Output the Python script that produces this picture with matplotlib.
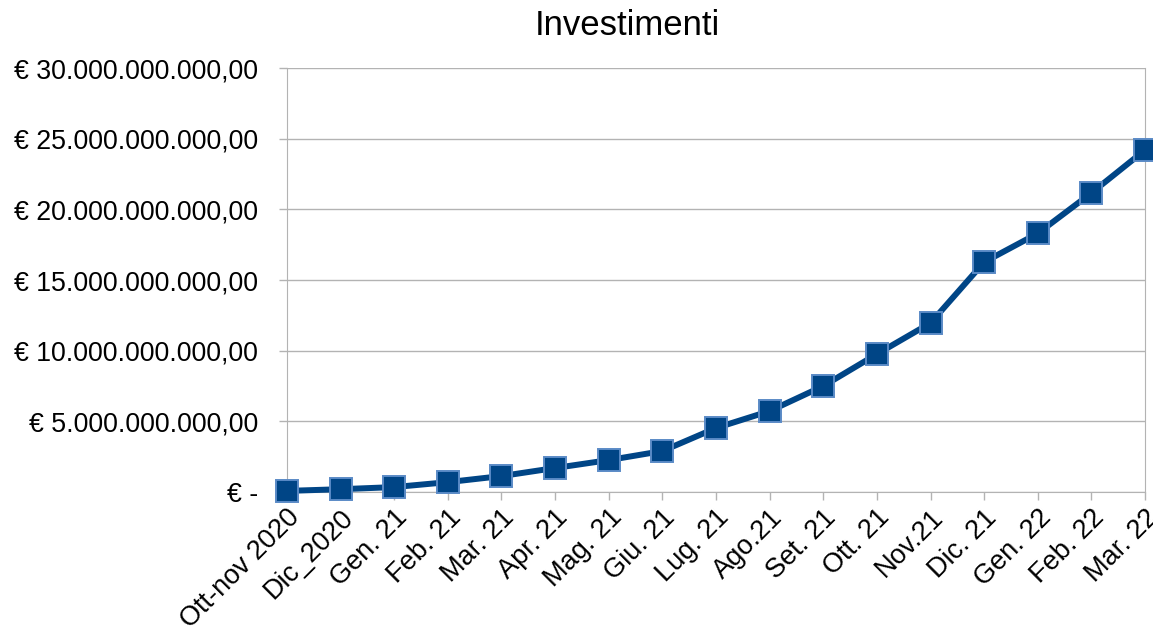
import matplotlib.pyplot as plt
import numpy as np

mesi = ['Ott-nov 2020', 'Dic_2020', 'Gen. 21', 'Feb. 21', 'Mar. 21', 'Apr. 21',
        'Mag. 21', 'Giu. 21', 'Lug. 21', 'Ago.21', 'Set. 21', 'Ott. 21',
        'Nov.21', 'Dic. 21', 'Gen. 22', 'Feb. 22', 'Mar. 22']
investimenti = [0.08e9, 0.2e9, 0.35e9, 0.7e9, 1.13e9, 1.7e9, 2.26e9, 2.9e9,
                4.53e9, 5.73e9, 7.5e9, 9.76e9, 11.96e9, 16.27e9, 18.3e9,
                21.16e9, 24.2e9]

plt.rcParams['font.family'] = ['Liberation Sans', 'DejaVu Sans']

def euro(v, pos=None):
    if v == 0:
        return '€ -'
    s = '{:,.2f}'.format(v).replace(',', 'X').replace('.', ',').replace('X', '.')
    return '€ ' + s

fig = plt.figure(figsize=(11.53, 6.3), dpi=100)
ax = fig.add_axes([0.2489, 0.219, 0.7442, 0.673])

x = np.arange(len(mesi))
ax.plot(x, investimenti, color='#004586', linewidth=4.3, marker='s',
        markersize=16.5, markerfacecolor='#004586', markeredgecolor='#5a8ac6',
        markeredgewidth=1.4, zorder=3, clip_on=False)

ax.set_xlim(0, len(mesi) - 1)
ax.set_ylim(0, 30e9)
ax.set_yticks(np.arange(0, 30e9 + 1, 5e9))
ax.yaxis.set_major_formatter(plt.FuncFormatter(euro))
ax.set_xticks(x)
ax.set_xticklabels(mesi, rotation=45, ha='right', rotation_mode='anchor')
ax.tick_params(axis='both', color='#b3b3b3', length=6, width=1)
ax.tick_params(axis='y', labelsize=19.3, pad=15)
ax.tick_params(axis='x', labelsize=19.5, pad=3)
ax.grid(axis='y', color='#b3b3b3', linewidth=1)
ax.set_axisbelow(True)
for s in ax.spines.values():
    s.set_color('#b3b3b3')
ax.spines['top'].set_visible(False)

fig.text(0.544, 0.96, 'Investimenti', fontsize=25, ha='center', va='center')

fig.savefig('out.png', dpi=100)
